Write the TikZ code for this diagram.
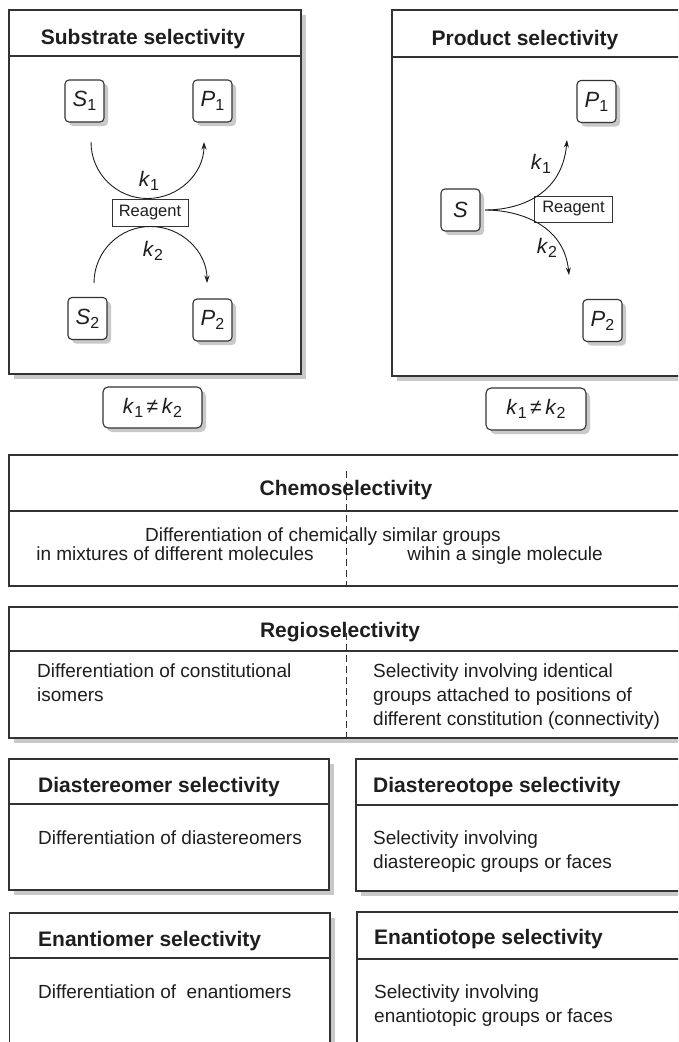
\documentclass[tikz,border=0pt]{standalone}
\usepackage{fontspec}
\setmainfont{Liberation Sans}
\usetikzlibrary{arrows.meta,shadows}
\definecolor{ink}{HTML}{1E1E1E}
\definecolor{rulec}{HTML}{333333}
\definecolor{shade}{HTML}{C9C9C9}
% italic symbol with an upright, lowered index
\newcommand\ssub[1]{\raisebox{-4pt}{\fontsize{16}{16}\selectfont #1}}
\newcommand\chem[2]{\textit{#1}\ssub{#2}}

\begin{document}
\begin{tikzpicture}[x=1pt,y=1pt,
  every node/.style={text=ink},
  shadowed/.style={drop shadow={shadow xshift=5pt,shadow yshift=-5pt,fill=shade,opacity=1}},
  frame/.style={draw=rulec,line width=1.2pt,fill=white},
  headrule/.style={draw=rulec,line width=1.2pt},
  title/.style={font=\fontsize{21}{25}\selectfont\bfseries,inner sep=0pt},
  body/.style={font=\fontsize{19}{24}\selectfont,inner sep=0pt,align=left},
  species/.style={draw=rulec,line width=1.1pt,fill=white,rounded corners=4pt,
    minimum width=39pt,minimum height=42pt,inner sep=0pt,
    font=\fontsize{22}{22}\selectfont,
    drop shadow={shadow xshift=4pt,shadow yshift=-4pt,fill=shade,opacity=1}},
  ratebox/.style={draw=rulec,line width=1.1pt,fill=white,rounded corners=5pt,
    minimum width=99pt,minimum height=41pt,inner sep=0pt,
    font=\fontsize{21}{21}\selectfont,
    drop shadow={shadow xshift=4pt,shadow yshift=-4pt,fill=shade,opacity=1}},
  reagent/.style={draw=rulec,line width=1pt,fill=white,inner sep=0pt,
    font=\fontsize{16.5}{16.5}\selectfont},
  rate/.style={font=\fontsize{21}{21}\selectfont,inner sep=0pt},
  arr/.style={draw=ink,line width=0.9pt,-{Stealth[length=7.5pt,width=5pt]}},
  divider/.style={draw=rulec,line width=0.9pt,dash pattern=on 7pt off 4pt}
]
\useasboundingbox (0,0) rectangle (678,-1042);
\clip (0,0) rectangle (678,-1042);

% ---------- Substrate selectivity ----------
\draw[frame,shadowed] (9,-10) rectangle (301,-374);
\draw[headrule] (9,-56) -- (301,-56);
\node[title,anchor=base] (subT) at (143,-44) {Substrate selectivity};
\node[species] (S1) at (84.5,-101) {\chem{S}{1}};
\node[species] (P1) at (212.5,-101) {\chem{P}{1}};
\node[species] (S2) at (87.5,-318.5) {\chem{S}{2}};
\node[species] (P2) at (212.5,-320) {\chem{P}{2}};
\node[reagent,minimum width=76pt,minimum height=27pt] (rgA) at (150,-212.5) {Reagent};
\coordinate (upA) at (91,-142);
\coordinate (loA) at (94,-283);
\draw[arr] (upA) arc[start angle=180,end angle=360,radius=56.5];
\draw[arr] (loA) arc[start angle=180,end angle=0,radius=56.5];
\node[rate] (k1A) at (149,-181) {\chem{k}{1}};
\node[rate] (k2A) at (153,-251) {\chem{k}{2}};
\node[ratebox] (neqA) at (152.5,-407.5) {\chem{k}{1}\,≠\,\chem{k}{2}};

% ---------- Product selectivity ----------
\draw[frame,shadowed] (392,-10) rectangle (700,-376);
\draw[headrule] (392,-57) -- (700,-57);
\node[title,anchor=base] (prodT) at (525,-45.5) {Product selectivity};
\node[species] (S) at (460.5,-210) {\textit{S}};
\node[species] (Q1) at (596.5,-101.5) {\chem{P}{1}};
\node[species] (Q2) at (602.5,-320.5) {\chem{P}{2}};
\node[reagent,minimum width=78pt,minimum height=26pt,anchor=west] (rgB) at (534,-209) {Reagent};
\coordinate (fork) at (485,-210);
\coordinate (tipB1) at (567,-140);
\coordinate (tipB2) at (569,-275);
\draw[arr] (fork) .. controls (518,-210) and (562,-196) .. (tipB1);
\draw[arr] (fork) .. controls (518,-210) and (564,-224) .. (tipB2);
\node[rate] (k1B) at (541,-164) {\chem{k}{1}};
\node[rate] (k2B) at (547,-248) {\chem{k}{2}};
\node[ratebox,minimum width=100pt,minimum height=42pt] (neqB) at (536,-409) {\chem{k}{1}\,≠\,\chem{k}{2}};

% ---------- Chemoselectivity ----------
\draw[frame] (9,-455) rectangle (700,-586);
\draw[headrule] (9,-511) -- (700,-511);
\draw[divider] (346,-471) -- (346,-586);
\node[title,anchor=base] (chemT) at (346,-495) {Chemoselectivity};
\node[body,anchor=base] (chemA) at (323,-541.7) {Differentiation of chemically similar groups};
\node[body,anchor=base] (chemL) at (175,-560) {in mixtures of different molecules};
\node[body,anchor=base] (chemR) at (505,-560) {wihin a single molecule};

% ---------- Regioselectivity ----------
\draw[frame,shadowed] (9,-607) rectangle (700,-738);
\draw[headrule] (9,-651) -- (700,-651);
\draw[divider] (346,-633) -- (346,-738);
\node[title,anchor=base] (regT) at (340,-637) {Regioselectivity};
% multi-line blocks are anchored at the baseline of their last line
\node[body,anchor=base west] (regL) at (37,-701) {Differentiation of constitutional\\isomers};
\node[body,anchor=base west] (regR) at (373,-725) {Selectivity involving identical\\groups attached to positions of\\different constitution (connectivity)};

% ---------- Diastereo ----------
\draw[frame,shadowed] (9,-759) rectangle (329,-890);
\draw[headrule] (9,-804) -- (329,-804);
\node[title,anchor=base west] (dmT) at (38,-792) {Diastereomer selectivity};
\node[body,anchor=base west] (dmB) at (38,-844) {Differentiation of diastereomers};

\draw[frame,shadowed] (356,-759) rectangle (700,-891);
\draw[headrule] (356,-805) -- (700,-805);
\node[title,anchor=base west] (dtT) at (373,-792) {Diastereotope selectivity};
\node[body,anchor=base west] (dtB) at (373,-868) {Selectivity involving\\diastereopic groups or faces};

% ---------- Enantio ----------
\draw[frame,shadowed] (9.5,-913) rectangle (330,-1070);
\draw[headrule] (9.5,-958) -- (330,-958);
\node[title,anchor=base west] (emT) at (38,-946) {Enantiomer selectivity};
\node[body,anchor=base west] (emB) at (38,-998) {Differentiation of \ enantiomers};

\draw[frame,shadowed] (357,-912) rectangle (700,-1070);
\draw[headrule] (357,-959) -- (700,-959);
\node[title,anchor=base west] (etT) at (374,-944) {Enantiotope selectivity};
\node[body,anchor=base west] (etB) at (374,-1022) {Selectivity involving\\enantiotopic groups or faces};
\end{tikzpicture}
\end{document}
